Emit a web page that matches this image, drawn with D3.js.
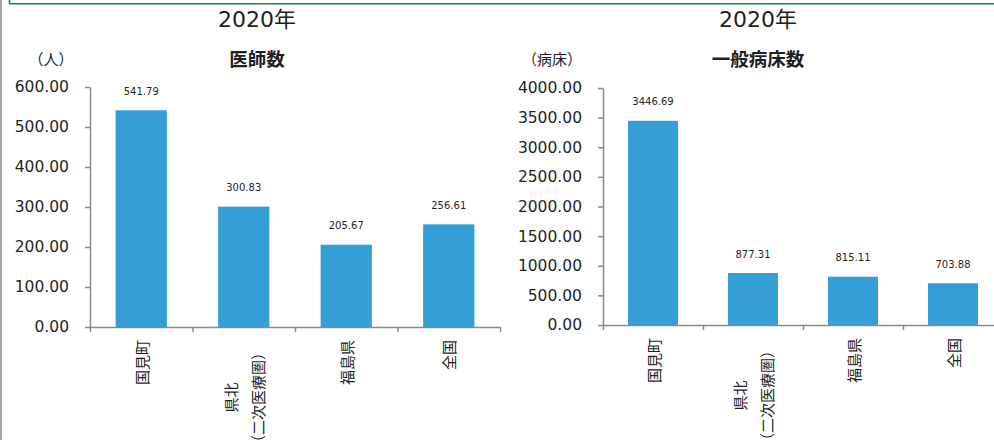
<!DOCTYPE html>
<html>
<head>
<meta charset="utf-8">
<script src="https://cdn.jsdelivr.net/npm/d3@7"></script>
<style>
  html, body { margin: 0; padding: 0; background: #fff; }
  svg { display: block; }
</style>
</head>
<body>
<svg id="chart" width="994" height="440"></svg>
<script>
// ---- data ----
const categories = ["国見町", "県北\n（二次医療圏）", "福島県", "全国"];
const doctorValues = [541.79, 300.83, 205.67, 256.61];
const bedValues = [3446.69, 877.31, 815.11, 703.88];
const doctorTicks = [0, 100, 200, 300, 400, 500, 600];
const bedTicks = [0, 500, 1000, 1500, 2000, 2500, 3000, 3500, 4000];
const yearTitle = "2020年";
const doctorTitle = "医師数";
const bedTitle = "一般病床数";
const doctorUnit = "（人）";
const bedUnit = "（病床）";

// ---- styles ----
const BAR = "#339fd6";
const AXIS = "#898989";
const TEXT = "#1f1f1f";
const NUMFONT = "'DejaVu Sans', Verdana, sans-serif";
const CJKFONT = "'Noto Sans CJK JP', 'Noto Sans', sans-serif";

const svg = d3.select("#chart");

// frame decorations
svg.append("line").attr("x1", 1).attr("x2", 1).attr("y1", 0).attr("y2", 440)
  .attr("stroke", "#a6a6a6").attr("stroke-width", 2);
svg.append("path").attr("d", "M9.5,0V3.8H994").attr("fill", "none")
  .attr("stroke", "#1e8050").attr("stroke-width", 1.6);

function drawChart(cfg) {
  const g = svg.append("g");
  const y = d3.scaleLinear().domain(cfg.domain).range([cfg.y0, cfg.y1]);
  const x = d3.scaleBand().domain(categories).range([cfg.x0, cfg.x1])
    .paddingInner(0.5).paddingOuter(0.25);
  const xi = d3.scaleLinear().domain([0, categories.length]).range([cfg.x0, cfg.x1]);

  // year title
  g.append("text").attr("x", cfg.titleX).attr("y", 27)
    .attr("text-anchor", "middle").attr("font-family", NUMFONT + "," + CJKFONT)
    .attr("font-size", 22).attr("fill", TEXT).text(yearTitle);
  // chart title
  g.append("text").attr("x", cfg.titleX).attr("y", 66)
    .attr("text-anchor", "middle").attr("font-family", CJKFONT)
    .attr("font-size", 18.5).attr("font-weight", "bold").attr("fill", TEXT).text(cfg.title);
  // unit
  g.append("text").attr("x", cfg.unitX).attr("y", 65)
    .attr("text-anchor", "middle").attr("font-family", CJKFONT)
    .attr("font-size", 15).attr("fill", TEXT).text(cfg.unit);

  // bars
  g.selectAll("rect.bar").data(cfg.values).join("rect")
    .attr("class", "bar")
    .attr("x", (d, i) => x(categories[i]))
    .attr("width", x.bandwidth())
    .attr("y", d => y(d))
    .attr("height", d => y(0) - y(d))
    .attr("fill", BAR);

  // value labels
  g.selectAll("text.val").data(cfg.values).join("text")
    .attr("class", "val")
    .attr("x", (d, i) => x(categories[i]) + x.bandwidth() / 2)
    .attr("y", d => y(d) - 15.5)
    .attr("text-anchor", "middle")
    .attr("font-family", NUMFONT).attr("font-size", 10).attr("fill", TEXT)
    .text(d => d3.format(".2f")(d));

  // y axis
  const ya = g.append("g").attr("transform", `translate(${cfg.x0},0)`)
    .call(d3.axisLeft(y).tickValues(cfg.ticks).tickFormat(d3.format(".2f"))
      .tickSize(5).tickSizeOuter(0).tickPadding(16));
  ya.select(".domain").attr("stroke", AXIS).attr("stroke-width", 1.5);
  ya.selectAll(".tick line").attr("stroke", AXIS).attr("stroke-width", 1.5);
  ya.selectAll(".tick text").attr("font-family", NUMFONT).attr("font-size", 15.5)
    .attr("fill", TEXT);

  // x axis
  const xa = g.append("g").attr("transform", `translate(0,${cfg.y0})`)
    .call(d3.axisBottom(xi).tickValues(d3.range(categories.length + 1))
      .tickFormat("").tickSize(5).tickSizeOuter(0));
  xa.select(".domain").attr("stroke", AXIS).attr("stroke-width", 1.5);
  xa.selectAll(".tick line").attr("stroke", AXIS).attr("stroke-width", 1.5);

  // category labels (rotated, reading bottom-to-top)
  categories.forEach((c, i) => {
    const lines = c.split("\n");
    const cx = x(c) + x.bandwidth() / 2;
    const lg = g.append("g");
    const texts = lines.map((ln, k) => {
      const off = lines.length === 1 ? 0 : (k - (lines.length - 1) / 2) * 27.5;
      return lg.append("text")
        .attr("font-family", CJKFONT).attr("font-size", 15).attr("fill", TEXT)
        .attr("dominant-baseline", "central")
        .attr("data-x", cx + off)
        .text(ln);
    });
    if (lines.length === 1) {
      texts.forEach(t => {
        const tx = +t.attr("data-x");
        t.attr("text-anchor", "end")
          .attr("transform", `translate(${tx},${cfg.y0 + 13}) rotate(-90)`);
      });
    } else {
      const maxLen = d3.max(texts, t => t.node().getComputedTextLength());
      const cy = cfg.y0 + 18 + maxLen / 2;
      texts.forEach(t => {
        const tx = +t.attr("data-x");
        t.attr("text-anchor", "middle")
          .attr("transform", `translate(${tx},${cy}) rotate(-90)`);
      });
    }
  });
}

drawChart({
  values: doctorValues, ticks: doctorTicks, domain: [0, 600],
  x0: 90, x1: 500, y0: 327, y1: 87,
  title: doctorTitle, unit: doctorUnit, titleX: 257, unitX: 51
});
drawChart({
  values: bedValues, ticks: bedTicks, domain: [0, 4000],
  x0: 603, x1: 1003, y0: 325, y1: 88,
  title: bedTitle, unit: bedUnit, titleX: 758, unitX: 552
});
</script>
</body>
</html>
